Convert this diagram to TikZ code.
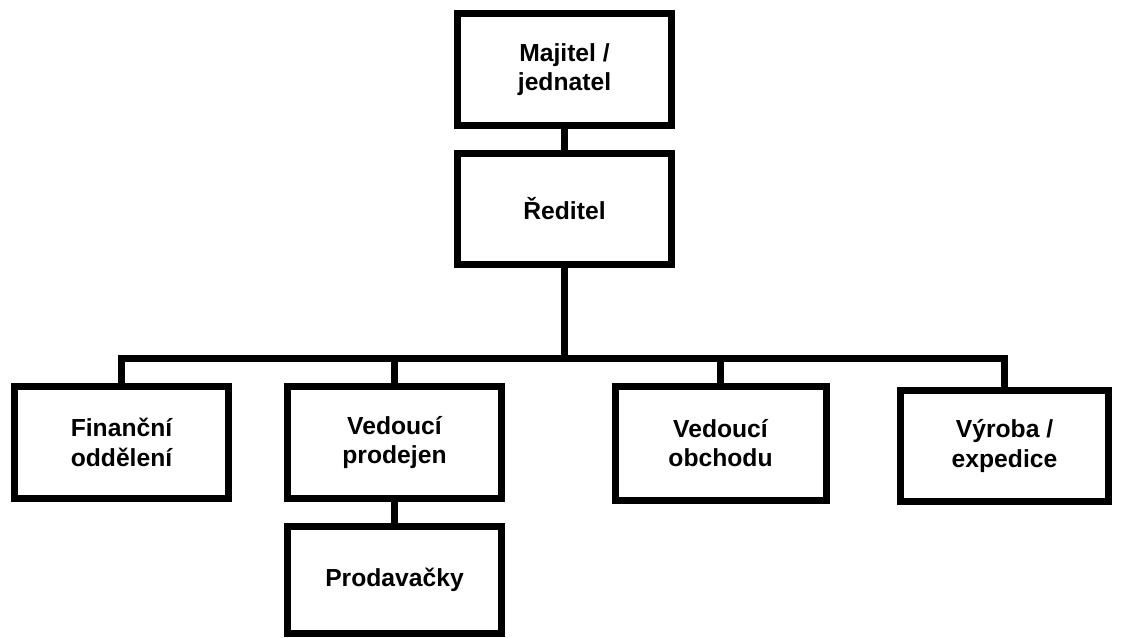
\documentclass[tikz,border=0pt]{standalone}
\usepackage{fontspec}
\setmainfont{Liberation Sans}
\begin{document}
\begin{tikzpicture}[x=0.75pt,y=-0.75pt,
  box/.style={draw=black, line width=5.25pt, rectangle, inner sep=0pt, align=center,
    font=\fontsize{18.5pt}{22pt}\selectfont\bfseries},
  conn/.style={draw=black, line width=5pt, line join=miter}]
\useasboundingbox (0,0) rectangle (1121,637);
\node[box, minimum width=160.5pt, minimum height=84pt] (maj) at (564.5,69.5) {Majitel /\\jednatel};
\node[box, minimum width=160.5pt, minimum height=83.25pt] (red) at (564.5,209) {Ředitel};
\node[box, minimum width=160.5pt, minimum height=84pt] (fin) at (121.5,442.5) {Finanční\\oddělení};
\node[box, minimum width=160.5pt, minimum height=84pt] (vpr) at (394.5,442.5) {Vedoucí\\prodejen};
\node[box, minimum width=160.5pt, minimum height=80.25pt] (pro) at (394.5,580) {Prodavačky};
\node[box, minimum width=158.25pt, minimum height=85.5pt] (vob) at (720.5,443) {Vedoucí\\obchodu};
\node[box, minimum width=156pt, minimum height=83.25pt] (vyr) at (1004.5,446) {Výroba /\\expedice};
\coordinate (bar) at (563,358.5);
\draw[conn] (maj.south) -- (red.north);
\draw[conn] (red.south) -- (red.south |- bar);
\draw[conn] (fin.north) -- (fin.north |- bar) -- (vyr.north |- bar) -- (vyr.north);
\draw[conn] (vpr.north |- bar) -- (vpr.north);
\draw[conn] (vob.north |- bar) -- (vob.north);
\draw[conn] (vpr.south) -- (pro.north);
\end{tikzpicture}
\end{document}
